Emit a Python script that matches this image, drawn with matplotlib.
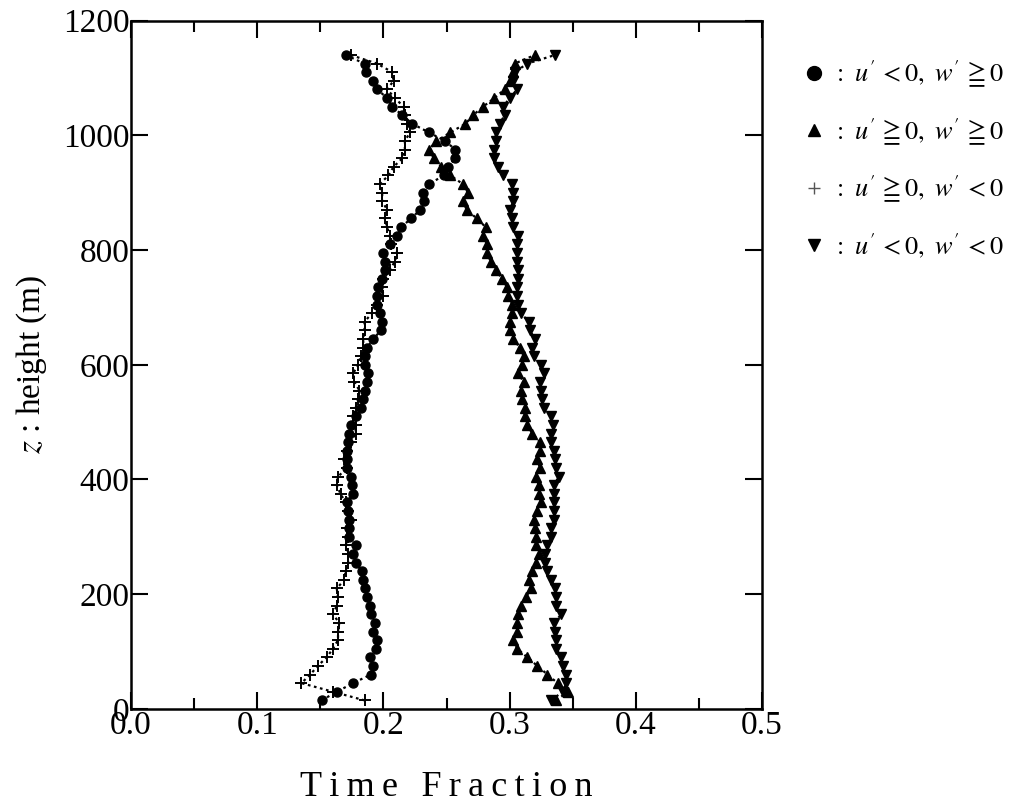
import numpy as np
import matplotlib
matplotlib.use("Agg")
import matplotlib.pyplot as plt
from matplotlib.lines import Line2D
from matplotlib.ticker import MultipleLocator

plt.rcParams['font.family'] = ['Liberation Serif', 'DejaVu Serif']
plt.rcParams['mathtext.fontset'] = 'stix'

# heights (m)
z = [15, 30, 45, 60, 75, 90, 105, 120, 135, 150, 165, 180, 195, 210, 225, 240,
     255, 270, 285, 300, 315, 330, 345, 360, 375, 390, 405, 420, 435, 450, 465,
     480, 495, 510, 525, 540, 555, 570, 585, 600, 615, 630, 645, 660, 675, 690,
     705, 720, 735, 750, 765, 780, 795, 810, 825, 840, 855, 870, 885, 900, 915,
     930, 945, 960, 975, 990, 1005, 1020, 1035, 1050, 1065, 1080, 1095, 1110,
     1125, 1140]

# u'<0, w'>=0
frac_circle = [0.151, 0.163, 0.176, 0.190, 0.192, 0.189, 0.194, 0.195, 0.192, 0.193,
               0.190, 0.189, 0.187, 0.185, 0.184, 0.183, 0.178, 0.176, 0.178, 0.173,
               0.173, 0.173, 0.172, 0.171, 0.176, 0.175, 0.174, 0.171, 0.171, 0.171,
               0.172, 0.173, 0.174, 0.178, 0.182, 0.184, 0.185, 0.187, 0.188, 0.185,
               0.185, 0.187, 0.192, 0.198, 0.199, 0.197, 0.195, 0.195, 0.196, 0.199,
               0.201, 0.201, 0.200, 0.205, 0.211, 0.214, 0.222, 0.229, 0.232, 0.231,
               0.236, 0.248, 0.251, 0.257, 0.257, 0.249, 0.236, 0.223, 0.215, 0.207,
               0.203, 0.195, 0.192, 0.186, 0.185, 0.170]

# u'>=0, w'>=0
frac_up = [0.337, 0.346, 0.338, 0.330, 0.322, 0.314, 0.306, 0.303, 0.306, 0.306,
           0.307, 0.309, 0.313, 0.317, 0.315, 0.318, 0.321, 0.323, 0.321, 0.321,
           0.320, 0.319, 0.322, 0.325, 0.323, 0.323, 0.321, 0.324, 0.322, 0.324,
           0.324, 0.318, 0.314, 0.312, 0.312, 0.310, 0.309, 0.311, 0.307, 0.310,
           0.311, 0.308, 0.303, 0.300, 0.300, 0.302, 0.302, 0.299, 0.298, 0.294,
           0.289, 0.285, 0.282, 0.282, 0.279, 0.281, 0.274, 0.266, 0.263, 0.267,
           0.263, 0.253, 0.246, 0.240, 0.236, 0.242, 0.253, 0.265, 0.271, 0.279,
           0.288, 0.296, 0.300, 0.303, 0.304, 0.320]

# u'>=0, w'<0
frac_plus = [0.185, 0.160, 0.135, 0.142, 0.148, 0.155, 0.160, 0.164, 0.164, 0.165,
             0.160, 0.163, 0.164, 0.163, 0.169, 0.170, 0.172, 0.172, 0.170, 0.172,
             0.171, 0.174, 0.172, 0.170, 0.166, 0.163, 0.164, 0.171, 0.169, 0.171,
             0.174, 0.178, 0.178, 0.176, 0.178, 0.180, 0.181, 0.177, 0.176, 0.180,
             0.182, 0.184, 0.184, 0.185, 0.185, 0.191, 0.195, 0.200, 0.199, 0.200,
             0.205, 0.209, 0.211, 0.206, 0.205, 0.203, 0.201, 0.203, 0.199, 0.199,
             0.197, 0.204, 0.208, 0.215, 0.217, 0.217, 0.221, 0.219, 0.217, 0.216,
             0.209, 0.203, 0.208, 0.207, 0.195, 0.174]

# u'<0, w'<0
frac_down = [0.333, 0.342, 0.345, 0.345, 0.342, 0.341, 0.337, 0.337, 0.336, 0.335,
             0.341, 0.337, 0.337, 0.336, 0.333, 0.330, 0.328, 0.328, 0.330, 0.333,
             0.333, 0.335, 0.335, 0.335, 0.335, 0.335, 0.339, 0.337, 0.336, 0.335,
             0.333, 0.333, 0.334, 0.333, 0.327, 0.326, 0.325, 0.324, 0.327, 0.325,
             0.319, 0.318, 0.320, 0.316, 0.315, 0.309, 0.307, 0.306, 0.306, 0.307,
             0.307, 0.306, 0.306, 0.306, 0.307, 0.303, 0.302, 0.300, 0.303, 0.303,
             0.302, 0.295, 0.291, 0.288, 0.288, 0.289, 0.289, 0.292, 0.296, 0.295,
             0.300, 0.306, 0.303, 0.304, 0.314, 0.336]

labels = [r"$:\ u'\,<0,\ w'\,\geqq 0$",
          r"$:\ u'\,\geqq 0,\ w'\,\geqq 0$",
          r"$:\ u'\,\geqq 0,\ w'\,<0$",
          r"$:\ u'\,<0,\ w'\,<0$"]


def spaced(s, gap='\u2009'):
    return gap.join(s)


fig = plt.figure(figsize=(10.16, 8.07), dpi=100)
ax = fig.add_axes([0.129, 0.1215, 0.621, 0.853])

ls = (0, (1.2, 1.6))
ax.plot(frac_circle, z, color='black', ls=ls, lw=1.6, marker='o', ms=6.5)
ax.plot(frac_up, z, color='black', ls=ls, lw=1.6, marker='^', ms=6.5)
ax.plot(frac_plus, z, color='black', ls=ls, lw=1.6, marker='+', ms=9, mew=1.4)
ax.plot(frac_down, z, color='black', ls=ls, lw=1.6, marker='v', ms=6.5)

ax.set_xlim(0, 0.5)
ax.set_ylim(0, 1200)
ax.xaxis.set_major_locator(MultipleLocator(0.1))
ax.xaxis.set_minor_locator(MultipleLocator(0.05))
ax.yaxis.set_major_locator(MultipleLocator(200))
ax.xaxis.set_major_formatter(plt.FuncFormatter(lambda v, p: f"{v:.1f}"))
ax.tick_params(which='both', direction='in', top=True, right=True,
               width=1.5, labelsize=24)
ax.tick_params(which='major', length=12, pad=1)
ax.tick_params(which='minor', length=8)
for s in ax.spines.values():
    s.set_linewidth(1.8)

ax.set_xlabel(spaced("Time Fraction"), fontsize=26, labelpad=22)
ax.set_ylabel(r"$z$ : height (m)", fontsize=24, labelpad=10)

handles = [Line2D([], [], ls='none', marker='o', color='black', ms=10),
           Line2D([], [], ls='none', marker='^', color='black', ms=8),
           Line2D([], [], ls='none', marker='+', color='#555555', ms=9, mew=1.0),
           Line2D([], [], ls='none', marker='v', color='black', ms=8)]
fig.legend(handles, labels, loc='upper left', bbox_to_anchor=(0.778, 0.94),
           frameon=False, fontsize=19, handlelength=1.0, handletextpad=0.2,
           labelspacing=0.98, borderaxespad=0)

fig.savefig("out.png", dpi=100)
